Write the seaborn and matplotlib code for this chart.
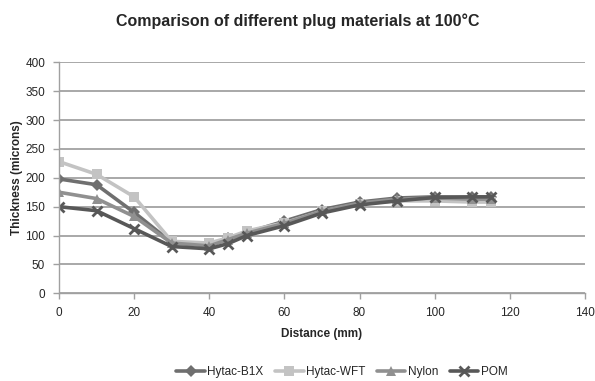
import matplotlib
matplotlib.use("Agg")
import matplotlib.pyplot as plt
import seaborn as sns
import pandas as pd

distance = [0, 10, 20, 30, 40, 45, 50, 60, 70, 80, 90, 100, 110, 115]
hytac_b1x = [198, 188, 140, 88, 84, 95, 105, 125, 145, 158, 165, 167, 166, 166]
hytac_wft = [228, 206, 167, 90, 87, 96, 108, 122, 142, 155, 160, 160, 158, 158]
nylon = [175, 164, 133, 87, 82, 93, 104, 121, 142, 156, 163, 165, 163, 163]
pom = [150, 143, 112, 81, 77, 86, 100, 117, 139, 153, 160, 166, 167, 167]
series_names = ["Hytac-B1X", "Hytac-WFT", "Nylon", "POM"]
x_ticks = [0, 20, 40, 60, 80, 100, 120, 140]
y_ticks = [0, 50, 100, 150, 200, 250, 300, 350, 400]

rows = []
for name, vals in zip(series_names, [hytac_b1x, hytac_wft, nylon, pom]):
    for d, v in zip(distance, vals):
        rows.append({"Distance": d, "Thickness": v, "Series": name})
df = pd.DataFrame(rows)

sns.set_theme(style="white")
plt.rcParams['font.family'] = ['Liberation Sans', 'DejaVu Sans']

fig = plt.figure(figsize=(5.95, 3.81), dpi=100)
ax = fig.add_axes([0.0992, 0.2302, 0.8838, 0.6063])

palette = {"Hytac-B1X": "#6f6f6f", "Hytac-WFT": "#c3c3c3", "Nylon": "#909090", "POM": "#585858"}
markers = {"Hytac-B1X": "D", "Hytac-WFT": "s", "Nylon": "^", "POM": "X"}

for name in series_names:
    sub = df[df["Series"] == name]
    mk = markers[name]
    kw = dict(marker=mk, markersize=7.5 if mk != "D" else 6, markeredgewidth=0)
    if name == "POM":
        kw = dict(marker="x", markersize=7.5, markeredgewidth=2, markeredgecolor=palette[name])
    sns.lineplot(data=sub, x="Distance", y="Thickness", ax=ax, color=palette[name],
                 linewidth=2.6, label=name, **kw)

ax.set_xlim(0, 140)
ax.set_ylim(0, 400)
ax.set_xticks(x_ticks)
ax.set_yticks(y_ticks)
ax.yaxis.grid(True, color="#9a9a9a", linewidth=1.2)
ax.xaxis.grid(False)
for s in ["top", "right"]:
    ax.spines[s].set_visible(False)
for s in ["left", "bottom"]:
    ax.spines[s].set_color("#a0a0a0")
    ax.spines[s].set_linewidth(1.0)
ax.tick_params(axis="both", which="both", length=4, width=1, color="#a0a0a0",
               labelsize=8.5, direction="out", bottom=True, left=True, pad=6)
ax.set_xlabel("Distance (mm)", fontsize=8.5, fontweight="bold", labelpad=6)
ax.set_ylabel("Thickness (microns)", fontsize=8.5, fontweight="bold")
ax.yaxis.set_label_coords(-0.069, 0.5)
fig.suptitle("Comparison of different plug materials at 100°C", fontsize=11.5,
             fontweight="bold", y=0.965)

leg = ax.legend(loc="upper center", bbox_to_anchor=(0.538, -0.27), ncol=4, frameon=False,
                fontsize=8.5, handlelength=2.4, columnspacing=1.0, handletextpad=0.2)

fig.savefig("out.png", dpi=100)
